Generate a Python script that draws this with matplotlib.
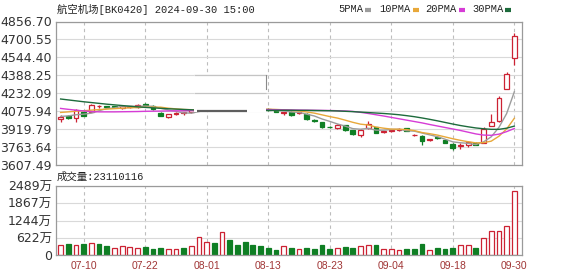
import numpy as np
import matplotlib.pyplot as plt
from matplotlib.patches import Rectangle
from matplotlib.lines import Line2D

# trading days shown (07-05 .. 09-30)
dates = ['07-05', '07-08', '07-09', '07-10', '07-11', '07-12', '07-15', '07-16', '07-17', '07-18',
         '07-19', '07-22', '07-23', '07-24', '07-25', '07-26', '07-29', '07-30', '07-31', '08-01',
         '08-02', '08-05', '08-06', '08-07', '08-08', '08-09', '08-12', '08-13', '08-14', '08-15',
         '08-16', '08-19', '08-20', '08-21', '08-22', '08-23', '08-26', '08-27', '08-28', '08-29',
         '08-30', '09-02', '09-03', '09-04', '09-05', '09-06', '09-09', '09-10', '09-11', '09-12',
         '09-13', '09-18', '09-19', '09-20', '09-23', '09-24', '09-25', '09-26', '09-27', '09-30']
tick_dates = ['07-10', '07-22', '08-01', '08-13', '08-23', '09-04', '09-18', '09-30']

opens = [4010, 4035, 4013, 4073, 4070, 4118, 4120, 4118, 4108, 4110,
         4112, 4135, 4125, 4060, 4025, 4050, 4058, 4070, 4085, 4100,
         4108, 4090, 4118, 4100, 4092, 4090, 4088, 4095, 4090, 4060,
         4072, 4058, 4052, 3998, 3980, 3940, 3928, 3952, 3912, 3870,
         3928, 3938, 3892, 3905, 3915, 3928, 3866, 3860, 3825, 3848,
         3822, 3792, 3770, 3783, 3800, 3800, 3950, 3988, 4272, 4539]
highs = [4040, 4045, 4092, 4078, 4135, 4128, 4125, 4122, 4128, 4125,
         4140, 4145, 4130, 4065, 4052, 4065, 4072, 4090, 4110, 4115,
         4112, 4130, 4122, 4105, 4098, 4094, 4092, 4100, 4095, 4072,
         4078, 4070, 4058, 4005, 3985, 3945, 3965, 3958, 3916, 3920,
         3992, 3942, 3905, 3918, 3928, 3932, 3880, 3866, 3835, 3856,
         3826, 3796, 3795, 3815, 3804, 3935, 4050, 4205, 4415, 4755]
lows = [3980, 4005, 3985, 4030, 4068, 4100, 4108, 4105, 4098, 4100,
        4105, 4118, 4090, 4030, 4020, 4040, 4045, 4060, 4080, 4090,
        4085, 4088, 4095, 4088, 4082, 4080, 4080, 4080, 4065, 4045,
        4035, 4050, 4000, 3982, 3930, 3928, 3922, 3900, 3872, 3852,
        3920, 3882, 3885, 3898, 3905, 3900, 3858, 3780, 3818, 3830,
        3796, 3737, 3745, 3760, 3780, 3795, 3945, 3985, 4268, 4475]
closes = [4022, 4018, 4085, 4038, 4132, 4125, 4115, 4112, 4118, 4118,
          4128, 4130, 4095, 4035, 4048, 4060, 4068, 4085, 4105, 4110,
          4090, 4120, 4100, 4092, 4088, 4085, 4084, 4085, 4070, 4068,
          4040, 4066, 4005, 3990, 3937, 3935, 3960, 3908, 3878, 3915,
          3968, 3888, 3900, 3912, 3922, 3906, 3870, 3820, 3830, 3842,
          3800, 3755, 3778, 3806, 3784, 3920, 3978, 4188, 4403, 4731]

# volume in 万
volumes = [375, 383, 377, 389, 446, 395, 317, 256, 340, 275,
           269, 287, 215, 250, 232, 221, 250, 317, 636, 456,
           426, 832, 546, 352, 456, 360, 318, 256, 180, 310,
           242, 200, 236, 212, 345, 206, 266, 278, 242, 327,
           375, 345, 224, 224, 188, 224, 224, 381, 163, 260,
           200, 260, 345, 345, 236, 599, 853, 853, 1035, 2311.0116]
vol_up = [1, 0, 1, 0, 1, 0, 0, 1, 1, 1,
          1, 0, 0, 0, 1, 1, 0, 1, 1, 1,
          0, 1, 0, 0, 0, 0, 0, 0, 0, 1,
          0, 1, 0, 0, 0, 0, 1, 0, 0, 1,
          1, 0, 1, 1, 1, 0, 0, 0, 1, 0,
          0, 0, 1, 1, 0, 1, 1, 1, 1, 1]

ma5 = [4030, 4035, 4045, 4050, 4059, 4080, 4099, 4104, 4120, 4118,
       4118, 4121, 4118, 4101, 4087, 4074, 4061, 4059, 4073, 4086,
       4092, 4102, 4105, 4102, 4098, 4097, 4090, 4087, 4082, 4078,
       4069, 4066, 4050, 4034, 4008, 3987, 3965, 3946, 3924, 3919,
       3926, 3911, 3910, 3917, 3918, 3906, 3902, 3886, 3870, 3854,
       3832, 3809, 3801, 3796, 3785, 3809, 3853, 3935, 4055, 4244]
ma10 = [4065, 4070, 4076, 4080, 4085, 4090, 4094, 4098, 4102, 4105,
        4108, 4110, 4111, 4111, 4102, 4096, 4091, 4089, 4087, 4086,
        4084, 4083, 4084, 4088, 4090, 4092, 4093, 4093, 4091, 4088,
        4082, 4078, 4069, 4059, 4044, 4029, 4016, 3998, 3979, 3963,
        3956, 3938, 3928, 3920, 3919, 3916, 3907, 3890, 3880, 3868,
        3852, 3836, 3822, 3810, 3800, 3802, 3815, 3858, 3921, 4014]
ma20 = [4100, 4092, 4085, 4078, 4073, 4070, 4070, 4070, 4071, 4072,
        4073, 4075, 4076, 4077, 4078, 4079, 4080, 4081, 4082, 4086,
        4090, 4094, 4095, 4097, 4095, 4093, 4092, 4090, 4089, 4088,
        4087, 4086, 4085, 4084, 4083, 4082, 4080, 4078, 4074, 4066,
        4056, 4045, 4034, 4022, 4010, 3998, 3986, 3974, 3960, 3947,
        3934, 3921, 3908, 3893, 3878, 3868, 3866, 3876, 3898, 3925]
ma30 = [4182, 4174, 4166, 4158, 4151, 4144, 4137, 4131, 4125, 4119,
        4114, 4109, 4105, 4101, 4097, 4094, 4091, 4088, 4086, 4085,
        4084, 4084, 4084, 4084, 4084, 4084, 4084, 4084, 4084, 4084,
        4084, 4083, 4083, 4082, 4081, 4080, 4078, 4075, 4072, 4068,
        4064, 4060, 4056, 4051, 4045, 4037, 4028, 4017, 4005, 3992,
        3978, 3964, 3951, 3940, 3930, 3923, 3918, 3918, 3928, 3946]

price_ticks = [3607.49, 3763.64, 3919.79, 4075.94, 4232.09, 4388.25, 4544.40, 4700.55, 4856.70]
vol_ticks = [0, 622, 1244, 1867, 2489]

RED = '#cc2233'
GREEN = '#0f7f24'
FRAME = '#9a9a9a'
GRID = '#d9d9d9'
mono = ['Liberation Mono', 'Noto Sans CJK SC']

fig = plt.figure(figsize=(5.78, 2.76), dpi=100)
ax = fig.add_axes([56 / 578, 1 - 165 / 276, 466 / 578, 143.5 / 276])
axv = fig.add_axes([56 / 578, 1 - 255 / 276, 466 / 578, 69 / 276])

x = np.arange(len(dates))
o = np.array(opens, float)
h = np.array(highs, float)
l = np.array(lows, float)
c = np.array(closes, float)
up = c >= o
tick_idx = [dates.index(d) for d in tick_dates]

for a in (ax, axv):
    a.set_xlim(-0.6, 60.0)
    a.set_xticks(tick_idx)
    a.grid(axis='x', color='#bdbdbd', ls=(0, (3, 3)), lw=0.8)
    a.grid(axis='y', color=GRID, lw=0.8)
    a.set_axisbelow(True)
    for s in a.spines.values():
        s.set_color(FRAME)
        s.set_linewidth(0.9)
    a.tick_params(length=0, pad=3, labelsize=9, labelcolor='#333333')

# price panel
ax.set_ylim(price_ticks[0], price_ticks[-1])
ax.set_yticks(price_ticks)
ax.set_yticklabels(['%.2f' % t for t in price_ticks])
ax.set_xticklabels([])

top = np.maximum(o, c)
bot = np.minimum(o, c)
body = np.maximum(top - bot, 5)
ax.vlines(x, top, h, color=np.where(up, RED, GREEN), lw=0.9, zorder=2)
ax.vlines(x, l, bot, color=np.where(up, RED, GREEN), lw=0.9, zorder=2)
ax.bar(x[up], body[up], bottom=bot[up], width=0.62, facecolor='white',
       edgecolor=RED, lw=0.9, zorder=3)
ax.bar(x[~up], body[~up], bottom=bot[~up], width=0.62, facecolor=GREEN,
       edgecolor=GREEN, lw=0.9, zorder=3)

ma_colors = ['#9c9c9c', '#e8a83a', '#d63cd6', '#1d6b3c']
for ma, col in zip([ma5, ma10, ma20, ma30], ma_colors):
    ax.plot(x, ma, color=col, lw=1.0, zorder=4)

# washed-out patch seen in the source picture (hides candles, keeps row lines)
ax.add_patch(Rectangle((17.35, 4073), 9.4, 319, facecolor='white', edgecolor='none', zorder=5))
ax.hlines([4232.09, 4388.25], 17.35, 26.75, color='#c4c4c4', lw=0.9, zorder=5.5)
ax.plot([17.8, 24.3], [4074, 4074], color='#5e5e5e', lw=1.6, zorder=6, solid_capstyle='butt')
ax.plot([26.75, 26.75], [4392, 4268], color='#8a8a8a', lw=0.8, zorder=6)

# volume panel
vu = np.array(vol_up, bool)
vol = np.array(volumes, float)
axv.bar(x[vu], vol[vu], width=0.62, facecolor='white', edgecolor=RED, lw=0.9)
axv.bar(x[~vu], vol[~vu], width=0.62, facecolor=GREEN, edgecolor=GREEN, lw=0.9)
axv.set_ylim(0, vol_ticks[-1])
axv.set_yticks(vol_ticks)
axv.set_yticklabels(['0'] + ['%d万' % t for t in vol_ticks[1:]],
                    family=['DejaVu Sans', 'Noto Sans CJK SC'])
axv.set_xticklabels(tick_dates, family='Liberation Sans', fontsize=7.5, color='#a03535')
axv.tick_params(axis='x', pad=4)

# header texts
fig.text(57 / 578, 1 - 9 / 276, '航空机场[BK0420] 2024-09-30 15:00', family=mono,
         fontsize=7.5, va='center', color='#222222')
legend = [('5PMA', 338.7, 365), ('10PMA', 379.7, 413), ('20PMA', 425, 459), ('30PMA', 472, 505)]
for (name, tx, sx), col in zip(legend, ma_colors):
    fig.text(tx / 578, 1 - 9.5 / 276, name, family=mono, fontsize=7.5, va='center', color='#222222')
    fig.add_artist(Line2D([sx / 578, (sx + 5.5) / 578], [1 - 9.5 / 276] * 2,
                          transform=fig.transFigure, color=col, lw=3, solid_capstyle='butt'))

fig.text(57 / 578, 1 - 177 / 276, '成交量:%d' % round(volumes[-1] * 10000), family=mono,
         fontsize=7.5, va='center', color='#222222')

fig.savefig('out.png', dpi=100, facecolor='white')
